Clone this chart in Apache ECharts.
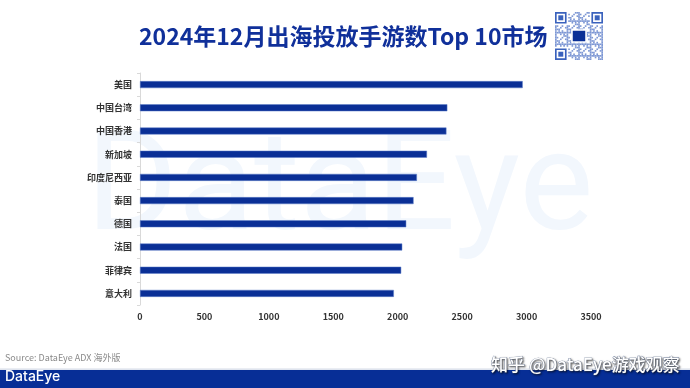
<!DOCTYPE html>
<html><head><meta charset="utf-8">
<script src="https://cdn.jsdelivr.net/npm/echarts@6/dist/echarts.min.js"></script>
<style>html,body{margin:0;padding:0;background:#fff}#c{width:690px;height:388px}</style>
</head><body><div id="c"></div>
<script>
const categories = ['美国','中国台湾','中国香港','新加坡','印度尼西亚','泰国','德国','法国','菲律宾','意大利'];
const values = [2970, 2385, 2378, 2227, 2149, 2123, 2066, 2035, 2027, 1970];
const xTicks = [0, 500, 1000, 1500, 2000, 2500, 3000, 3500];
const titleText = '2024年12月出海投放手游数Top 10市场';

const chart = echarts.init(document.getElementById('c'));

// decorative QR-like pattern
const qr = [];
const qx = 555, qy = 12, qs = 48, n = 29, cell = qs / n;
function finder(x, y) {
  qr.push({type:'rect', shape:{x:x+cell/2, y:y+cell/2, width:cell*6, height:cell*6}, style:{fill:'none', stroke:'#3a62bd', lineWidth:cell}, z:5});
  qr.push({type:'rect', shape:{x:x+cell*2, y:y+cell*2, width:cell*3, height:cell*3}, style:{fill:'#3a62bd'}, z:5});
}
for (let i = 0; i < n; i++) for (let j = 0; j < n; j++) {
  if ((i < 8 && j < 8) || (i < 8 && j > n-9) || (i > n-9 && j < 8)) continue;
  if (((i * 7 + j * 13 + i * j * 3) % 7) < 3) {
    qr.push({type:'rect', shape:{x:qx+j*cell, y:qy+i*cell, width:cell, height:cell}, style:{fill:'#7d97d4'}, z:5});
  }
}
finder(qx, qy);
finder(qx+qs-cell*7, qy);
finder(qx, qy+qs-cell*7);
qr.push({type:'rect', shape:{x:qx+qs/2-7, y:qy+qs/2-6, width:14, height:12}, style:{fill:'#0a2f96', stroke:'#fff', lineWidth:1.5}, z:6});

chart.setOption({
  animation: false,
  grid: {left: 140, right: 99, top: 73, bottom: 83},
  graphic: [
    {type:'text', left: 86, top: 124, z: -10, silent: true,
      style:{text:'DataEye', fontFamily:'Roboto', fontSize:140, fill:'#f2f7fd', fontWeight:'normal'}},
    {type:'text', left: 139, top: 25, style:{text:titleText, fontFamily:'Noto Sans CJK SC', fontWeight:'bold', fontSize:23, fill:'#10309a'}},
    {type:'text', left: 5, top: 353, style:{text:'Source: DataEye ADX 海外版', fontFamily:'Noto Sans CJK SC', fontSize:9, fill:'#8a8a8a'}},
    {type:'rect', shape:{x:0, y:368.5, width:690, height:1.2}, style:{fill:'#d5dbe8'}},
    {type:'rect', shape:{x:0, y:370, width:690, height:18}, style:{fill:'#072e96'}},
    {type:'text', left: 5, top: 370, style:{text:'DataEye', fontFamily:'Inter', fontSize:14, fontWeight:500, fill:'#fff'}},
    {type:'text', right: 10, top: 356, z: 10, style:{text:'知乎 @DataEye游戏观察', fontFamily:'Noto Sans CJK SC', fontSize:17, fontWeight:500, fill:'#fff', stroke:'#6f7f9e', lineWidth:0.7, textShadowColor:'rgba(0,0,0,0.55)', textShadowBlur:2, textShadowOffsetX:1, textShadowOffsetY:1}},
  ].concat(qr),
  xAxis: {
    type:'value', min: 0, max: 3500, interval: 500,
    axisLine:{show:false}, axisTick:{show:false}, splitLine:{show:false},
    axisLabel:{color:'#333', fontSize:9, fontWeight:'bold', fontFamily:'Noto Sans CJK SC', margin:7,
      formatter: v => xTicks.includes(v) ? String(v) : ''}
  },
  yAxis: {
    type:'category', data: categories, inverse: true,
    axisLine:{show:true, lineStyle:{color:'#d9d9d9'}},
    axisTick:{show:true, length:3, lineStyle:{color:'#d9d9d9'}},
    axisLabel:{color:'#333', fontSize:9, fontWeight:'bold', fontFamily:'Noto Sans CJK SC', margin:8}
  },
  series: [{
    type:'bar', data: values, barWidth: 7,
    itemStyle:{color:'#0a2f96', borderColor:'#5f7fc8', borderWidth:0.5}
  }]
});
</script></body></html>
